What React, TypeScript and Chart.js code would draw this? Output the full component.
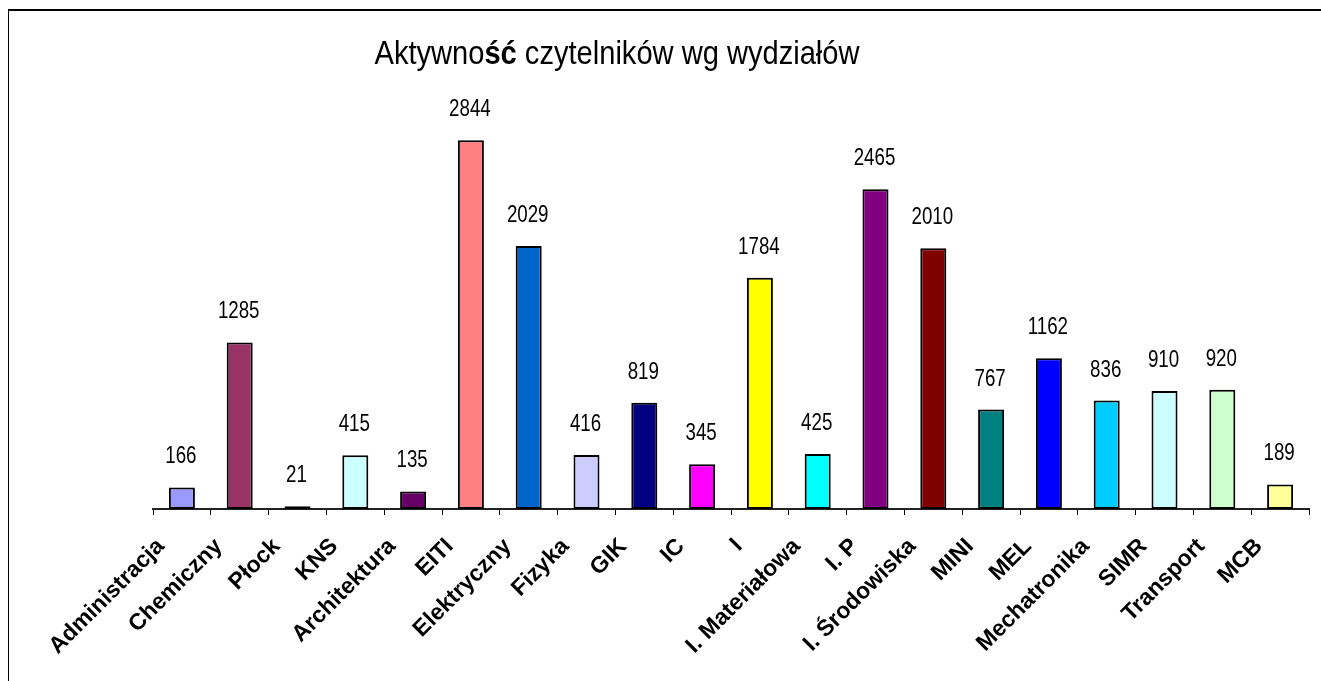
import React, { useEffect, useRef } from 'react';
import { Chart, registerables } from 'chart.js';

Chart.register(...registerables);

const categories = [
  'Administracja', 'Chemiczny', 'Płock', 'KNS', 'Architektura', 'EITI', 'Elektryczny',
  'Fizyka', 'GIK', 'IC', 'I', 'I. Materiałowa', 'I. P', 'I. Środowiska', 'MINI', 'MEL',
  'Mechatronika', 'SIMR', 'Transport', 'MCB',
];
const values = [166, 1285, 21, 415, 135, 2844, 2029, 416, 819, 345, 1784, 425, 2465, 2010, 767, 1162, 836, 910, 920, 189];
const barColors = [
  '#9999FF', '#993366', '#FFFFCC', '#CCFFFF', '#660066', '#FF8080', '#0066CC', '#CCCCFF',
  '#000080', '#FF00FF', '#FFFF00', '#00FFFF', '#800080', '#800000', '#008080', '#0000FF',
  '#00CCFF', '#CCFFFF', '#CCFFCC', '#FFFF99',
];
const titleParts = [
  { text: 'Aktywno', bold: false },
  { text: 'ść', bold: true },
  { text: ' czytelników wg wydziałów', bold: false },
];
const yMax = 3000;

const FAMILY = '"Liberation Sans", Arial, sans-serif';

const titlePlugin = {
  id: 'customTitle',
  afterDraw(chart: any) {
    const ctx = chart.ctx;
    ctx.save();
    ctx.fillStyle = '#000';
    ctx.textBaseline = 'alphabetic';
    ctx.textAlign = 'left';
    const size = 33;
    const fonts = titleParts.map((p) => `${p.bold ? 'bold ' : ''}${size}px ${FAMILY}`);
    const widths = titleParts.map((p, i) => {
      ctx.font = fonts[i];
      return ctx.measureText(p.text).width;
    });
    const total = widths.reduce((a, b) => a + b, 0);
    const targetW = 485;
    const sx = targetW / total;
    ctx.translate(608 - targetW / 2, 53);
    ctx.scale(sx, 1);
    let x = 0;
    titleParts.forEach((p, i) => {
      ctx.font = fonts[i];
      ctx.fillText(p.text, x, 0);
      x += widths[i];
    });
    ctx.restore();
  },
};

const valueLabelPlugin = {
  id: 'valueLabels',
  afterDatasetsDraw(chart: any) {
    const ctx = chart.ctx;
    const meta = chart.getDatasetMeta(0);
    const data = chart.data.datasets[0].data as number[];
    meta.data.forEach((bar: any, i: number) => {
      ctx.save();
      ctx.translate(bar.x - 1, bar.y - 24);
      ctx.scale(0.78, 1);
      ctx.font = `24px ${FAMILY}`;
      ctx.fillStyle = '#000';
      ctx.textAlign = 'center';
      ctx.textBaseline = 'alphabetic';
      ctx.fillText(String(data[i]), 0, 0);
      ctx.restore();
    });
  },
};

export default function App() {
  const ref = useRef<HTMLCanvasElement>(null);

  useEffect(() => {
    const chart = new Chart(ref.current!, {
      type: 'bar',
      data: {
        labels: categories,
        datasets: [
          {
            data: values,
            backgroundColor: barColors,
            borderColor: '#000',
            borderWidth: 2,
            borderSkipped: false,
            barPercentage: 0.45,
            categoryPercentage: 1,
          },
        ],
      },
      options: {
        animation: false,
        responsive: true,
        maintainAspectRatio: false,
        layout: { padding: { left: 144, right: 12, top: 109, bottom: 0 } },
        plugins: {
          legend: { display: false },
          title: { display: false },
          tooltip: { enabled: false },
        },
        scales: {
          x: {
            offset: true,
            grid: {
              display: true,
              offset: true,
              drawOnChartArea: false,
              drawTicks: true,
              tickLength: 6,
              color: '#000',
              lineWidth: 1,
            },
            border: { display: true, color: '#222', width: 2 },
            ticks: {
              autoSkip: false,
              minRotation: 45,
              maxRotation: 45,
              padding: 18,
              labelOffset: -21,
              color: '#000',
              font: { family: FAMILY, size: 23, weight: 'bold' },
            },
            afterFit(scale: any) {
              scale.height = 172;
            },
          },
          y: {
            display: false,
            min: 0,
            max: yMax,
          },
        },
      },
      plugins: [titlePlugin, valueLabelPlugin],
    });
    return () => chart.destroy();
  }, []);

  return (
    <div
      style={{
        position: 'absolute',
        left: 8,
        top: 9,
        width: 1313,
        height: 672,
        boxSizing: 'border-box',
        borderTop: '2px solid #000',
        borderLeft: '1px solid #000',
        background: '#fff',
      }}
    >
      <div style={{ position: 'relative', width: '100%', height: '100%' }}>
        <canvas ref={ref} />
      </div>
    </div>
  );
}
